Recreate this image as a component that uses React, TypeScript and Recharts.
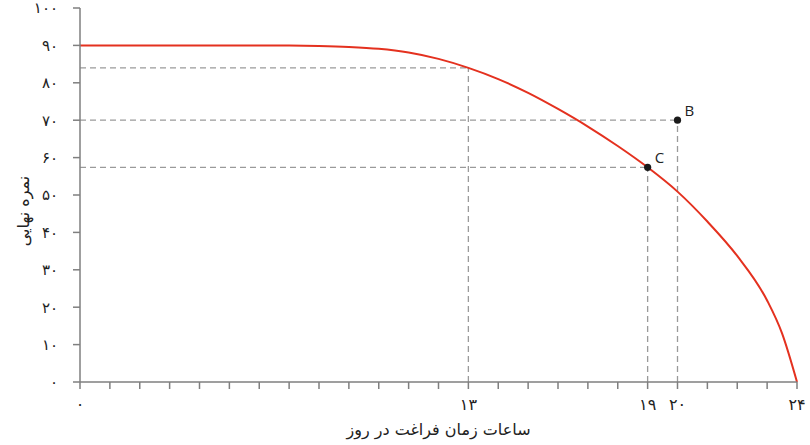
import React from 'react';
import {
  ComposedChart,
  Line,
  Scatter,
  XAxis,
  YAxis,
  ReferenceLine,
} from 'recharts';

// ساعات فراغت و نمره نهایی (مرز امکانات)
const hours = [0, 2, 4, 6, 7, 8, 9, 10, 11, 12, 13, 14, 15, 16, 17, 18, 19, 20, 21, 22, 23, 23.5, 24];
const grades = [90, 90, 90, 90, 89.95, 89.85, 89.6, 89.1, 88.1, 86.4, 84, 81, 77.3, 73, 68.3, 63.1, 57.4, 50.9, 42.9, 33.7, 21.8, 13, 0];

const pointNames = ['C', 'B'];
const pointHours = [19, 20];
const pointGrades = [57.4, 70];

const guideHour = 13;
const guideGrade = 84;

const xTicks = Array.from({ length: 25 }, (_, i) => i);
const xLabeled = [0, 13, 19, 20, 24];
const yTicks = [0, 10, 20, 30, 40, 50, 60, 70, 80, 90, 100];

const toFa = (n: number) =>
  String(n).replace(/\d/g, (d) => '۰۱۲۳۴۵۶۷۸۹'[Number(d)]);

const curve = hours.map((h, i) => ({ h, g: grades[i] }));
const points = pointNames.map((name, i) => ({ h: pointHours[i], g: pointGrades[i], name }));

const guides = [
  { h: guideHour, g: guideGrade },
  ...points.map((p) => ({ h: p.h, g: p.g })),
];

const axisColor = '#7f7f7f';
const dashColor = '#9a9a9a';
const font = 'DejaVu Sans';

export default function App() {
  return (
    <div style={{ position: 'absolute', left: 0, top: 0, background: '#fff' }}>
      <ComposedChart
        width={810}
        height={445}
        margin={{ top: 8, right: 13, left: 0, bottom: 0 }}
      >
        <XAxis
          dataKey="h"
          type="number"
          domain={[0, 24]}
          ticks={xTicks}
          interval={0}
          tickFormatter={(v) => (xLabeled.includes(v) ? toFa(v) : '')}
          height={63}
          stroke={axisColor}
          strokeWidth={1.5}
          tickSize={7}
          tickMargin={10}
          tick={{ fill: '#222', fontSize: 16, fontFamily: font }}
          label={{
            content: (props: any) => {
              const vb = props.viewBox;
              return (
                <text
                  x={vb.x + vb.width / 2}
                  y={vb.y + 53}
                  textAnchor="middle"
                  fill="#222"
                  fontSize={16}
                  fontFamily={font}
                >
                  ساعات زمان فراغت در روز
                </text>
              );
            },
          }}
        />
        <YAxis
          type="number"
          domain={[0, 100]}
          ticks={yTicks}
          interval={0}
          tickFormatter={(v) => toFa(v)}
          width={80}
          stroke={axisColor}
          strokeWidth={1.5}
          tickSize={7}
          tickMargin={15}
          tick={{ fill: '#222', fontSize: 15, fontFamily: font }}
          label={{
            content: (props: any) => {
              const vb = props.viewBox;
              const cx = vb.x + 23;
              const cy = vb.y + vb.height / 2 + 16;
              return (
                <text
                  x={cx}
                  y={cy}
                  textAnchor="middle"
                  dominantBaseline="central"
                  transform={`rotate(-90, ${cx}, ${cy})`}
                  fill="#222"
                  fontSize={16}
                  fontFamily={font}
                >
                  نمره نهایی
                </text>
              );
            },
          }}
        />
        {guides.map((p, i) => (
          <ReferenceLine
            key={'h' + i}
            segment={[{ x: 0, y: p.g }, { x: p.h, y: p.g }]}
            stroke={dashColor}
            strokeDasharray="6 4"
            strokeWidth={1.3}
          />
        ))}
        {guides.map((p, i) => (
          <ReferenceLine
            key={'v' + i}
            segment={[{ x: p.h, y: 0 }, { x: p.h, y: p.g }]}
            stroke={dashColor}
            strokeDasharray="6 4"
            strokeWidth={1.3}
          />
        ))}
        <Line
          data={curve}
          dataKey="g"
          type="monotone"
          stroke="#e4311f"
          strokeWidth={2}
          dot={false}
          isAnimationActive={false}
        />
        <Scatter
          data={points}
          dataKey="g"
          fill="#1a1a1a"
          isAnimationActive={false}
          shape={(props: any) => (
            <g>
              <circle cx={props.cx} cy={props.cy} r={3.6} fill="#1a1a1a" />
              <text
                x={props.cx + 7}
                y={props.cy - 4}
                fill="#222"
                fontSize={15}
                fontFamily="Open Sans"
              >
                {props.payload.name}
              </text>
            </g>
          )}
        />
      </ComposedChart>
    </div>
  );
}
